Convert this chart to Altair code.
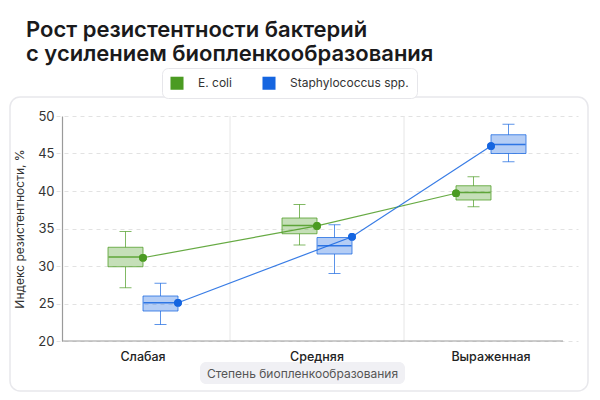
import altair as alt
import pandas as pd

categories = ["Слабая", "Средняя", "Выраженная"]
series_names = ["E. coli", "Staphylococcus spp."]
series_colors = ["#4b9b22", "#1565e0"]

ecoli_min = [27.1, 32.8, 37.9]
ecoli_q1 = [29.9, 34.3, 38.8]
ecoli_median = [31.2, 35.4, 39.8]
ecoli_q3 = [32.5, 36.4, 40.7]
ecoli_max = [34.6, 38.2, 41.9]
ecoli_mean = [31.1, 35.35, 39.7]

staph_min = [22.2, 29.0, 43.9]
staph_q1 = [24.0, 31.6, 45.0]
staph_median = [25.1, 32.7, 46.2]
staph_q3 = [26.0, 33.8, 47.5]
staph_max = [27.7, 35.5, 48.9]
staph_mean = [25.1, 33.9, 46.0]

y_ticks = [20, 25, 30, 35, 40, 45, 50]

title_lines = ["Рост резистентности бактерий", "с усилением биопленкообразования"]
x_title = "Степень биопленкообразования"
y_title = "Индекс резистентности, %"

rows = []
for name, mn, q1, md, q3, mx, me in [
    (series_names[0], ecoli_min, ecoli_q1, ecoli_median, ecoli_q3, ecoli_max, ecoli_mean),
    (series_names[1], staph_min, staph_q1, staph_median, staph_q3, staph_max, staph_mean),
]:
    for i, c in enumerate(categories):
        rows.append(dict(cat=c, series=name, lo=mn[i], q1=q1[i], median=md[i],
                         q3=q3[i], hi=mx[i], mean=me[i]))
df = pd.DataFrame(rows)
one = pd.DataFrame({"k": [0]})

W, H = 501, 225
FONT = "Inter"

xscale = alt.Scale(domain=categories, range=[-6, 516], paddingInner=0, paddingOuter=0)
xaxis = alt.Axis(domain=False, ticks=False, grid=False, labelFont=FONT, labelFontSize=12.5,
                 labelFontWeight=500, labelColor="#222222", labelPadding=9, labelAngle=0,
                 titleFont=FONT, titleFontSize=12, titleFontWeight="normal", titleColor="#555555",
                 titleX=240, titleY=32, titleBaseline="middle", zindex=1)
yscale = alt.Scale(domain=[20, 50], nice=False, zero=False)
yaxis = alt.Axis(values=y_ticks, ticks=False, domainColor="#9a9a9a", domainWidth=1.2,
                 gridColor="#e2e2e2", gridDash=[4, 4], labelFont=FONT, labelFontSize=13,
                 labelColor="#333333", labelPadding=8, titleFont=FONT, titleFontSize=12,
                 titleFontWeight="normal", titleColor="#333333", titlePadding=11)
cscale = alt.Scale(domain=series_names, range=series_colors)
box_offset = alt.XOffset("series:N", scale=alt.Scale(domain=series_names, range=[52, 122],
                                                      paddingInner=0, paddingOuter=0))
mean_offset = alt.XOffset("anchor:N", scale=alt.Scale(type="point", domain=["L", "M", "R"],
                                                       range=[52, 122], padding=0))

legend = alt.Legend(orient="none", legendX=100, legendY=-48, direction="horizontal", title=None,
                    symbolType="square", symbolSize=170, symbolOpacity=1, symbolStrokeWidth=0,
                    labelFont=FONT, labelFontSize=12, labelColor="#333333", labelOffset=14,
                    columnPadding=30, padding=8, fillColor="#ffffff", strokeColor="#e6e6ea",
                    cornerRadius=6)


def X(**kw):
    return alt.X("cat:N", scale=xscale, axis=xaxis, title=x_title, sort=categories, **kw)


def Y(field):
    return alt.Y(field, scale=yscale, axis=yaxis, title=y_title)


def C():
    return alt.Color("series:N", scale=cscale, legend=legend)


card = alt.Chart(one).mark_rect(fill="#ffffff", fillOpacity=0, stroke="#e8e8ec",
                                strokeWidth=1.5, cornerRadius=10).encode(
    x=alt.value(-52), x2=alt.value(526), y=alt.value(-19), y2=alt.value(275))

pill = alt.Chart(one).mark_rect(fill="#f0f0f4", cornerRadius=6).encode(
    x=alt.value(138), x2=alt.value(343), y=alt.value(246), y2=alt.value(268))

vgrid = alt.Chart(pd.DataFrame({"cat": categories[1:]})).mark_rule(
    color="#e6e6e6", strokeWidth=1).encode(
    x=X(bandPosition=0), y=alt.value(0), y2=alt.value(H))

xline = alt.Chart(one).mark_rule(color="#9a9a9a", strokeWidth=1.2).encode(
    x=alt.value(0), x2=alt.value(W), y=alt.value(H))

base = alt.Chart(df)

anchor_expr = ("datum.cat == 'Выраженная' ? (datum.series == 'E. coli' ? 'L' : 'M') : "
               "(datum.series == 'E. coli' ? 'M' : 'R')")
mean_base = base.transform_calculate(
    anchor=anchor_expr,
    cat_i="indexof(" + str(categories) + ", datum.cat)",
)

# filled points first so the merged legend takes filled square symbols
legend_pts = mean_base.mark_point(filled=True, size=60, opacity=1).encode(
    x=X(), xOffset=mean_offset, y=Y("mean:Q"), color=C())

boxes = base.mark_bar(fillOpacity=0.32, strokeWidth=1, strokeOpacity=0.75).encode(
    x=X(), xOffset=box_offset, y=Y("q1:Q"), y2="q3:Q", color=C(),
    stroke=alt.Stroke("series:N", scale=cscale, legend=None))
whisk_lo = base.mark_rule(strokeWidth=1, opacity=0.7).encode(
    x=X(), xOffset=box_offset, y=Y("lo:Q"), y2="q1:Q", color=C())
whisk_hi = base.mark_rule(strokeWidth=1, opacity=0.7).encode(
    x=X(), xOffset=box_offset, y=Y("q3:Q"), y2="hi:Q", color=C())
cap_lo = base.mark_tick(size=12, thickness=1, opacity=0.7).encode(
    x=X(), xOffset=box_offset, y=Y("lo:Q"), color=C())
cap_hi = base.mark_tick(size=12, thickness=1, opacity=0.7).encode(
    x=X(), xOffset=box_offset, y=Y("hi:Q"), color=C())
medians = base.mark_tick(size=34, thickness=1.5, opacity=0.85).encode(
    x=X(), xOffset=box_offset, y=Y("median:Q"), color=C())

mean_line = mean_base.mark_line(strokeWidth=1.2, opacity=0.85).encode(
    x=X(), xOffset=mean_offset, y=Y("mean:Q"), color=C(), order="cat_i:Q")
mean_pts = mean_base.mark_point(filled=True, size=60, opacity=1).encode(
    x=X(), xOffset=mean_offset, y=Y("mean:Q"), color=C())

chart = alt.layer(
    card, pill, vgrid, legend_pts, boxes, whisk_lo, whisk_hi, cap_lo, cap_hi, medians,
    mean_line, mean_pts, xline
).resolve_scale(xOffset="independent").properties(
    width=W, height=H,
    autosize=alt.AutoSizeParams(type="none"),
    padding={"left": 54, "top": 108, "right": 29, "bottom": 51},
    background="#ffffff",
    title=alt.TitleParams(text=title_lines, anchor="start", frame="group", dx=-36, offset=2,
                          fontSize=22, fontWeight=600, font=FONT, color="#1a1a1c", lineHeight=24),
).configure_view(strokeWidth=0)

chart.save("out.html", embed_options={"renderer": "svg", "actions": False})
